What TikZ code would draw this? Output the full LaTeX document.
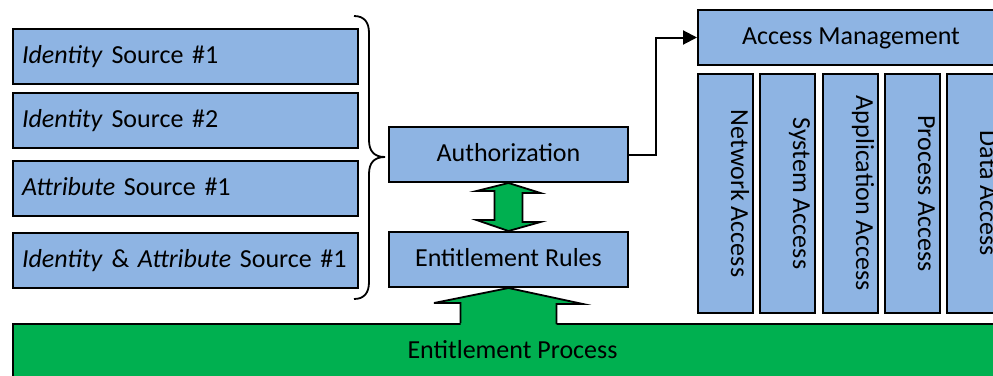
\documentclass[tikz,border=0pt]{standalone}
\usepackage{fontspec}
\setmainfont{Carlito}
\usetikzlibrary{arrows.meta,calc}
\definecolor{boxblue}{HTML}{8EB4E3}
\definecolor{procgreen}{HTML}{00B050}
\begin{document}
\begin{tikzpicture}[x=1pt,y=-1pt,
  fnt/.style={font=\fontsize{26pt}{30pt}\selectfont},
  bluebox/.style={draw=black, line width=2pt, fill=boxblue, inner sep=0pt, fnt, text height=18pt, text depth=4pt},
  srcbox/.style={bluebox, anchor=north west, text width=327pt, inner xsep=9pt, minimum height=55pt, align=left},
  midbox/.style={bluebox, minimum width=239pt, minimum height=55pt},
  accbox/.style={bluebox, anchor=north west, minimum width=55pt, minimum height=239pt},
  acctext/.style={fnt, rotate=-90, anchor=base, inner sep=0pt},
  greenshape/.style={fill=procgreen},
  outline/.style={draw=black, line width=1.8pt, line join=miter}
]
\useasboundingbox (0,0) rectangle (993,375);
\clip (0,0) rectangle (993,375);

% source boxes
\node[srcbox] (s1) at (12,28)  {\textit{Identity} Source \#1};
\node[srcbox] (s2) at (12,92)  {\textit{Identity} Source \#2};
\node[srcbox] (s3) at (12,160) {\textit{Attribute} Source \#1};
\node[srcbox] (s4) at (12,232) {\textit{Identity} \& \textit{Attribute} Source \#1};

% brace
\coordinate (bt) at (385,157);
\draw[line width=1.8pt] (354,16) .. controls (364,16) and (369,22) .. (369,33) -- (369,140)
  .. controls (369,151) and (374,157) .. (bt)
  .. controls (374,157) and (369,163) .. (369,174) -- (369,282)
  .. controls (369,293) and (364,299) .. (354,299);

% middle boxes
\node[midbox] (auth) at (508.5,154.5) {Authorization};
\node[midbox] (er) at (508.5,259.5) {Entitlement Rules};

% access management
\node[bluebox, anchor=north west, minimum width=306pt, minimum height=55pt] (am) at (697,9) {Access Management};
\node[accbox] (na) at (697,73) {};
\node[accbox] (sa) at (759,73) {};
\node[accbox] (aa) at (822,73) {};
\node[accbox] (pa) at (884,73) {};
\node[accbox] (da) at (946,73) {};
\node[acctext] (nat) at ([xshift=-23pt]na.east) {Network Access};
\node[acctext] (sat) at ([xshift=-23pt]sa.east) {System Access};
\node[acctext] (aat) at ([xshift=-23pt]aa.east) {Application Access};
\node[acctext] (pat) at ([xshift=-23pt]pa.east) {Process Access};
\node[acctext] (dat) at ([xshift=-23pt]da.east) {Data Access};

% connector
\draw[line width=2pt, -{Triangle[length=14pt,width=14pt]}] (auth.east) -- ++(26.5,0) |- (am.west);

% double arrow
\filldraw[greenshape, outline] (auth.south) -- ++(32,10) -- ++(-18,0) -- ++(0,29) -- ++(18,0) -- (er.north)
  -- ++(-32,-11) -- ++(18,0) -- ++(0,-29) -- ++(-18,0) -- cycle;

% entitlement process bar
\node[draw=black, line width=2pt, fill=procgreen, fnt, text height=18pt, text depth=4pt,
  anchor=north west, minimum width=999pt, minimum height=54pt, inner sep=0pt] (ep) at (12,323) {Entitlement Process};

% up arrow
\coordinate (ua) at (er.south);
\fill[greenshape] ($(ep.north -| ua)+(-48,2)$) -- ++(0,-22) -- ++(-26.5,0) -- (ua) -- ++(74.5,16) -- ++(-26.5,0) -- ++(0,22) -- cycle;
\draw[outline] ($(ep.north -| ua)+(-48,0)$) -- ++(0,-20) -- ++(-26.5,0) -- (ua) -- ++(74.5,16) -- ++(-26.5,0) -- ++(0,20);
\end{tikzpicture}
\end{document}
